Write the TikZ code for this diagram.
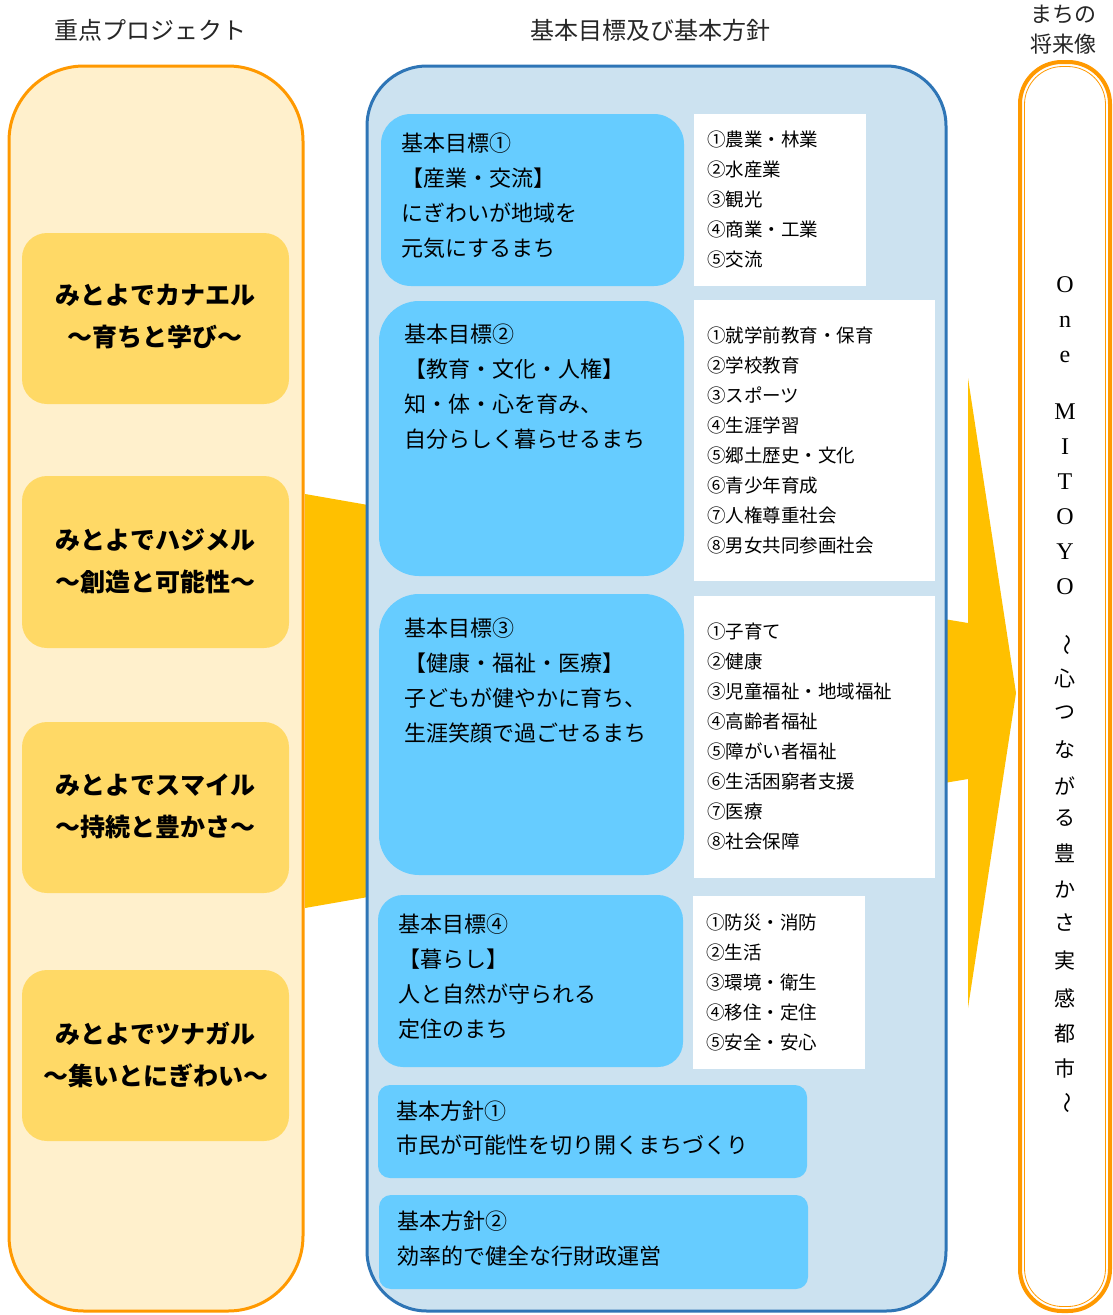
\documentclass[tikz,border=0pt]{standalone}
\usepackage{fontspec}
\setmainfont{Noto Sans CJK JP}
\newfontfamily\latinserif{Liberation Serif}
\definecolor{cream}{RGB}{255,240,204}
\definecolor{orangeline}{RGB}{255,153,0}
\definecolor{projfill}{RGB}{255,217,102}
\definecolor{arrowyellow}{RGB}{255,192,0}
\definecolor{bluefill}{RGB}{204,226,240}
\definecolor{blueline}{RGB}{46,117,182}
\definecolor{goalfill}{RGB}{102,204,255}
\begin{document}
\begin{tikzpicture}[x=1pt,y=-1pt,
  cjk/.style={inner sep=0pt, text=black},
  titletext/.style={cjk, font=\fontsize{24}{30}\selectfont, text=black!85},
  projtext/.style={cjk, align=center, font=\fontsize{25}{42}\selectfont\bfseries},
  goaltext/.style={cjk, align=left, anchor=base west, font=\fontsize{22}{35}\selectfont},
  itemtext/.style={cjk, align=left, anchor=base west, font=\fontsize{18.5}{30}\selectfont},
  vlat/.style={cjk, font=\latinserif\fontsize{24}{24}\selectfont},
  vjp/.style={cjk, font=\fontsize{21}{21}\selectfont},
  projbox/.style={fill=projfill, rounded corners=25pt},
  goalbox/.style={fill=goalfill},
  listbox/.style={fill=white},
]
\useasboundingbox (0,0) rectangle (1113,1315);
\fill[white] (0,0) rectangle (1113,1315);

% arrows
\fill[arrowyellow] (305,494) -- (368,505) -- (368,897) -- (305,908) -- cycle;
\fill[arrowyellow] (944,619) -- (968,623) -- (968,378) -- (1016,693) -- (968,1008) -- (968,779) -- (944,783) -- cycle;

% left column
\draw[line width=3pt, draw=orangeline, fill=cream, rounded corners=75pt] (9,66) rectangle (303,1311);
\fill[projbox] (22,233) rectangle (289,404);
\fill[projbox] (22,476) rectangle (289,648);
\fill[projbox] (22,722) rectangle (289,893);
\fill[projbox] (22,970) rectangle (289,1141);
\node[projtext] (p1) at (155.5,317) {みとよでカナエル\\～育ちと学び～};
\node[projtext] (p2) at (155.5,561) {みとよでハジメル\\～創造と可能性～};
\node[projtext] (p3) at (155.5,806) {みとよでスマイル\\～持続と豊かさ～};
\node[projtext] (p4) at (155.5,1055) {みとよでツナガル\\～集いとにぎわい～};

% middle column
\draw[line width=3pt, draw=blueline, fill=bluefill, rounded corners=60pt] (367,66) rectangle (946,1311);
\fill[goalbox, rounded corners=30pt] (381,114) rectangle (684,286);
\fill[listbox] (694,114) rectangle (866,286);
\fill[goalbox, rounded corners=40pt] (379,301) rectangle (684,576);
\fill[listbox] (694,300) rectangle (935,581);
\fill[goalbox, rounded corners=40pt] (379,594) rectangle (684,875);
\fill[listbox] (694,596) rectangle (935,878);
\fill[goalbox, rounded corners=25pt] (378,895) rectangle (683,1067);
\fill[listbox] (693,896) rectangle (865,1069);
\fill[goalbox, rounded corners=12pt] (378,1085) rectangle (807,1178);
\fill[goalbox, rounded corners=12pt] (379,1195) rectangle (808,1289);

% multi-line nodes: base anchor sits on the last line
\node[goaltext] (g1) at (401,256) {基本目標①\\【産業・交流】\\にぎわいが地域を\\元気にするまち};
\node[goaltext] (g2) at (404,447) {基本目標②\\【教育・文化・人権】\\知・体・心を育み、\\自分らしく暮らせるまち};
\node[goaltext] (g3) at (404,741) {基本目標③\\【健康・福祉・医療】\\子どもが健やかに育ち、\\生涯笑顔で過ごせるまち};
\node[goaltext] (g4) at (398,1037) {基本目標④\\【暮らし】\\人と自然が守られる\\定住のまち};
\node[goaltext, font=\fontsize{22}{34}\selectfont] (h1) at (396,1153) {基本方針①\\市民が可能性を切り開くまちづくり};
\node[goaltext, font=\fontsize{22}{35}\selectfont] (h2) at (397,1264) {基本方針②\\効率的で健全な行財政運営};

\node[itemtext] (l1) at (707,266) {①農業・林業\\②水産業\\③観光\\④商業・工業\\⑤交流};
\node[itemtext] (l2) at (707,552) {①就学前教育・保育\\②学校教育\\③スポーツ\\④生涯学習\\⑤郷土歴史・文化\\⑥青少年育成\\⑦人権尊重社会\\⑧男女共同参画社会};
\node[itemtext] (l3) at (707,848) {①子育て\\②健康\\③児童福祉・地域福祉\\④高齢者福祉\\⑤障がい者福祉\\⑥生活困窮者支援\\⑦医療\\⑧社会保障};
\node[itemtext] (l4) at (706,1049) {①防災・消防\\②生活\\③環境・衛生\\④移住・定住\\⑤安全・安心};

% right column
\draw[line width=4pt, draw=orangeline, fill=white, rounded corners=42pt] (1020,62) rectangle (1110,1311);
\draw[line width=0.8pt, draw=orangeline, rounded corners=38pt] (1024.5,66.5) rectangle (1105.5,1306.5);
\foreach \c/\y [count=\i] in {O/285,n/322,e/357,M/412,I/447,T/482,O/517,Y/552,O/587}
  \node[vlat] (v\i) at (1065,\y) {\c};
\node[vjp, rotate=-90] (w0) at (1065,645) {～};
\foreach \c/\y [count=\i] in {心/678,つ/713,な/750,が/786,る/818,豊/853,か/890,さ/923,実/961,感/998,都/1034,市/1068}
  \node[vjp] (w\i) at (1065,\y) {\c};
\node[vjp, rotate=-90] (w13) at (1065,1103) {～};

% titles
\node[titletext] (t1) at (150,30) {重点プロジェクト};
\node[titletext] (t2) at (650,30) {基本目標及び基本方針};
\node[titletext, align=center, font=\fontsize{22}{30}\selectfont] (t3) at (1063,30) {まちの\\将来像};
\end{tikzpicture}
\end{document}
